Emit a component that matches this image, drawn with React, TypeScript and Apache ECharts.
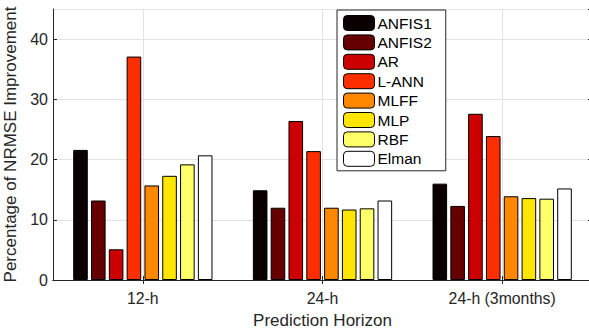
import React, { useEffect, useRef } from "react";
import * as echarts from "echarts";

const categories = ["12-h", "24-h", "24-h (3months)"];
const seriesNames = ["ANFIS1", "ANFIS2", "AR", "L-ANN", "MLFF", "MLP", "RBF", "Elman"];
const anfis1 = [21.6, 14.9, 16.0];
const anfis2 = [13.2, 12.0, 12.3];
const ar = [5.1, 26.4, 27.6];
const lann = [37.1, 21.4, 23.9];
const mlff = [15.7, 12.0, 13.9];
const mlp = [17.3, 11.7, 13.6];
const rbf = [19.2, 11.9, 13.5];
const elman = [20.7, 13.2, 15.2];
const seriesValues = [anfis1, anfis2, ar, lann, mlff, mlp, rbf, elman];
const seriesColors = ["#0b0000", "#660000", "#cc0000", "#ff2e00", "#ff8800", "#ffe600", "#ffff6a", "#ffffff"];
const yTicks = { min: 0, max: 45, interval: 10 };

export default function App() {
  const ref = useRef<HTMLDivElement>(null);
  useEffect(() => {
    if (!ref.current) return;
    const chart = echarts.init(ref.current, undefined, { renderer: "svg" });
    const axisColor = "#262626";
    const font = "Liberation Sans, Arial, Helvetica, sans-serif";
    chart.setOption({
      animation: false,
      backgroundColor: "#ffffff",
      grid: { left: 53, top: 9, width: 539, height: 271, outerBoundsMode: "none", containLabel: false },
      legend: {
        orient: "vertical",
        left: 337,
        top: 10,
        padding: [5, 14, 4, 6],
        itemWidth: 31,
        itemHeight: 15,
        itemGap: 3.4,
        backgroundColor: "#ffffff",
        borderColor: axisColor,
        borderWidth: 1,
        borderRadius: 0,
        data: seriesNames,
        itemStyle: { borderColor: "#000", borderWidth: 1 },
        textStyle: { color: "#000", fontSize: 15.5, lineHeight: 15, fontFamily: font, padding: [0, 0, 0, -2] },
      },
      xAxis: [
        {
          type: "category",
          data: categories,
          position: "bottom",
          name: "Prediction Horizon",
          nameLocation: "middle",
          nameGap: 32,
          nameTextStyle: { color: axisColor, fontSize: 17, fontFamily: font },
          axisLine: { lineStyle: { color: axisColor, width: 1 } },
          axisTick: { show: true, inside: true, length: 4, alignWithLabel: true, lineStyle: { color: axisColor } },
          axisLabel: { color: axisColor, fontSize: 15.8, fontFamily: font, margin: 10 },
          splitLine: { show: true, alignWithLabel: true, lineStyle: { color: "#e3e3e3", width: 1 } },
        },
        {
          type: "category",
          data: categories,
          position: "top",
          axisLine: { lineStyle: { color: axisColor, width: 1 } },
          axisTick: { show: true, inside: true, length: 4, alignWithLabel: true, lineStyle: { color: axisColor } },
          axisLabel: { show: false },
          splitLine: { show: false },
        },
      ],
      yAxis: [
        {
          type: "value",
          min: yTicks.min,
          max: yTicks.max,
          interval: yTicks.interval,
          name: "Percentage of NRMSE Improvement",
          nameLocation: "middle",
          nameRotate: 90,
          nameGap: 30,
          nameTextStyle: { color: axisColor, fontSize: 17, fontFamily: font },
          axisLine: { show: true, lineStyle: { color: axisColor, width: 1 } },
          axisTick: { show: true, inside: true, length: 4, lineStyle: { color: axisColor } },
          axisLabel: { color: axisColor, fontSize: 16, fontFamily: font, margin: 5, showMaxLabel: false },
          splitLine: { show: true, lineStyle: { color: "#e3e3e3", width: 1 } },
        },
        {
          type: "value",
          min: yTicks.min,
          max: yTicks.max,
          interval: yTicks.interval,
          position: "right",
          axisLine: { show: true, lineStyle: { color: axisColor, width: 1 } },
          axisTick: { show: true, inside: true, length: 4, lineStyle: { color: axisColor } },
          axisLabel: { show: false },
          splitLine: { show: false },
        },
      ],
      series: seriesNames.map((name, i) => ({
        name,
        type: "bar",
        xAxisIndex: 0,
        yAxisIndex: 0,
        data: seriesValues[i],
        barWidth: 14.6,
        barGap: "22%",
        itemStyle: { color: seriesColors[i], borderColor: "#000", borderWidth: 1 },
      })),
    });
    return () => chart.dispose();
  }, []);
  return (
    <div
      ref={ref}
      style={{ position: "absolute", left: 0, top: 0, width: 589, height: 335, background: "#fff" }}
    />
  );
}
